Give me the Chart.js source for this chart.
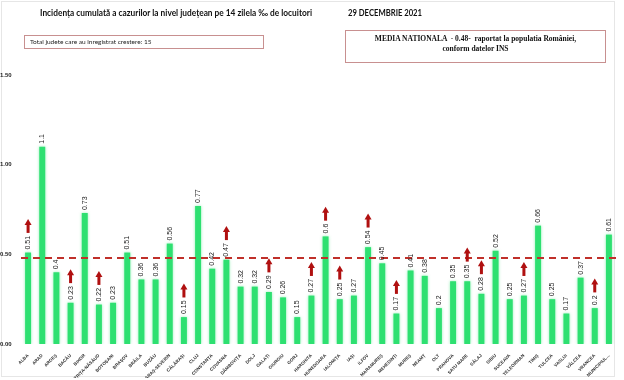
<!DOCTYPE html>
<html><head><meta charset="utf-8">
<script src="https://cdn.jsdelivr.net/npm/chart.js@4/dist/chart.umd.min.js"></script>
<style>
html,body{margin:0;padding:0;background:#fff;}
#wrap{position:relative;width:624px;height:380px;overflow:hidden;}
#frame{position:absolute;left:1px;top:1px;width:612px;height:374px;border:1px solid #e6e6e6;}
canvas{position:absolute;left:0;top:0;}
.t{position:absolute;font-family:Lato,"Liberation Sans",sans-serif;font-weight:bold;color:#111;white-space:nowrap;transform-origin:0 0;}
#title{left:40px;top:7px;font-size:9.5px;}
#date{left:348px;top:7px;font-size:9.5px;}
#box1{position:absolute;left:24px;top:35px;border:1px solid #c89090;font-family:Lato,sans-serif;font-size:6.5px;line-height:12px;padding-left:5px;box-sizing:border-box;width:240px;height:14px;color:#222;}
#box2{position:absolute;left:345px;top:30px;width:261px;height:33px;border:1px solid #c89090;box-sizing:border-box;font-family:"Liberation Serif","DejaVu Serif",serif;font-weight:bold;font-size:7.5px;text-align:center;line-height:10px;padding-top:3px;color:#111;}
</style></head>
<body><div id="wrap">
<div id="frame"></div>
<canvas id="c" width="624" height="380"></canvas>
<div class="t" id="title">Incidența cumulată a cazurilor la nivel județean pe 14 zilela ‰ de locuitori</div>
<div class="t" id="date">29 DECEMBRIE 2021</div>
<div id="box1">Total judete care au inregistrat crestere: 15</div>
<div id="box2">MEDIA NATIONALA &nbsp;- 0.48- &nbsp;raportat la populatia României,<br>conform datelor INS</div>
</div>
<script>
const counties = ["ALBA","ARAD","ARGEȘ","BACĂU","BIHOR","BISTRIȚA-NĂSĂUD","BOTOȘANI","BRAȘOV","BRĂILA","BUZĂU","CARAȘ-SEVERIN","CĂLĂRAȘI","CLUJ","CONSTANȚA","COVASNA","DÂMBOVIȚA","DOLJ","GALAȚI","GIURGIU","GORJ","HARGHITA","HUNEDOARA","IALOMIȚA","IAȘI","ILFOV","MARAMUREȘ","MEHEDINȚI","MUREȘ","NEAMȚ","OLT","PRAHOVA","SATU MARE","SĂLAJ","SIBIU","SUCEAVA","TELEORMAN","TIMIȘ","TULCEA","VASLUI","VÂLCEA","VRANCEA","MUNICIPIUL..."];
const incidence = [0.51,1.1,0.4,0.23,0.73,0.22,0.23,0.51,0.36,0.36,0.56,0.15,0.77,0.42,0.47,0.32,0.32,0.29,0.26,0.15,0.27,0.6,0.25,0.27,0.54,0.45,0.17,0.41,0.38,0.2,0.35,0.35,0.28,0.52,0.25,0.27,0.66,0.25,0.17,0.37,0.2,0.61];
const increased = ["ALBA","BACĂU","BISTRIȚA-NĂSĂUD","CĂLĂRAȘI","COVASNA","GALAȚI","HARGHITA","HUNEDOARA","IALOMIȚA","ILFOV","MEHEDINȚI","SATU MARE","SĂLAJ","TELEORMAN","VRANCEA"];
const nationalAverage = 0.48;
const yTicks = [0, 0.5, 1.0, 1.5];

function fitText(id, target){
  const el = document.getElementById(id);
  el.style.transform = 'none';
  const w = el.getBoundingClientRect().width;
  if (w > 0) el.style.transform = 'scaleX(' + (target / w) + ')';
}
function fitAll(){ fitText('title', 272); fitText('date', 74); }
fitAll();
if (document.fonts && document.fonts.ready) document.fonts.ready.then(fitAll);

const overlay = {
  id:'overlay',
  beforeDatasetsDraw(chart){
    const ctx = chart.ctx;
    ctx.save();
    ctx.shadowColor = 'rgba(46,224,113,0.55)';
    ctx.shadowBlur = 3;
  },
  afterDatasetsDraw(chart){
    const ctx = chart.ctx;
    ctx.restore();
    const meta = chart.getDatasetMeta(0);
    const ys = chart.scales.y;
    const area = chart.chartArea;
    ctx.save();
    ctx.strokeStyle = '#c0302a';
    ctx.lineWidth = 2;
    ctx.setLineDash([7,5]);
    const ay = ys.getPixelForValue(nationalAverage);
    ctx.beginPath(); ctx.moveTo(area.left, ay); ctx.lineTo(area.right, ay); ctx.stroke();
    ctx.restore();
    ctx.save();
    ctx.font = '7px "Liberation Sans", Arial, sans-serif';
    meta.data.forEach((bar, i) => {
      const txt = String(incidence[i]);
      const w = ctx.measureText(txt).width;
      const base = bar.y - 3;
      ctx.save();
      ctx.translate(bar.x, base);
      ctx.rotate(-Math.PI/2);
      ctx.fillStyle = '#1a1a1a';
      ctx.textAlign = 'left';
      ctx.textBaseline = 'middle';
      ctx.fillText(txt, 0, 0);
      ctx.restore();
      if (increased.includes(counties[i])) {
        const bot = base - w - 3;
        const top = bot - 14;
        ctx.fillStyle = '#b01010';
        ctx.fillRect(bar.x - 1.5, top + 5, 3, 9);
        ctx.beginPath();
        ctx.moveTo(bar.x - 3.5, top + 6);
        ctx.lineTo(bar.x, top);
        ctx.lineTo(bar.x + 3.5, top + 6);
        ctx.closePath();
        ctx.fill();
      }
    });
    ctx.restore();
  }
};

new Chart(document.getElementById('c'), {
  type:'bar',
  data:{labels:counties, datasets:[{data:incidence, backgroundColor:'#2ee071', barPercentage:0.42, categoryPercentage:1}]},
  options:{
    responsive:false, animation:false,
    layout:{padding:{top:75,left:0,right:8,bottom:2}},
    plugins:{legend:{display:false}, tooltip:{enabled:false}},
    scales:{
      x:{grid:{display:false}, border:{display:false},
         ticks:{font:{size:4.5, family:'"Liberation Sans", Arial, sans-serif', weight:'bold'}, color:'#333', minRotation:45, maxRotation:45, padding:1, autoSkip:false},
         afterFit(s){ s.height = 34; }},
      y:{min:0, max:1.5, grid:{display:false}, border:{display:false},
         afterBuildTicks(s){ s.ticks = yTicks.map(v=>({value:v})); },
         ticks:{font:{size:6, family:'"Liberation Sans", Arial, sans-serif', weight:'bold'}, color:'#222', padding:0, crossAlign:'far', callback:v=>Number(v).toFixed(2)},
         afterFit(s){ s.width = 21; }}
    }
  },
  plugins:[overlay]
});
</script>
</body></html>
